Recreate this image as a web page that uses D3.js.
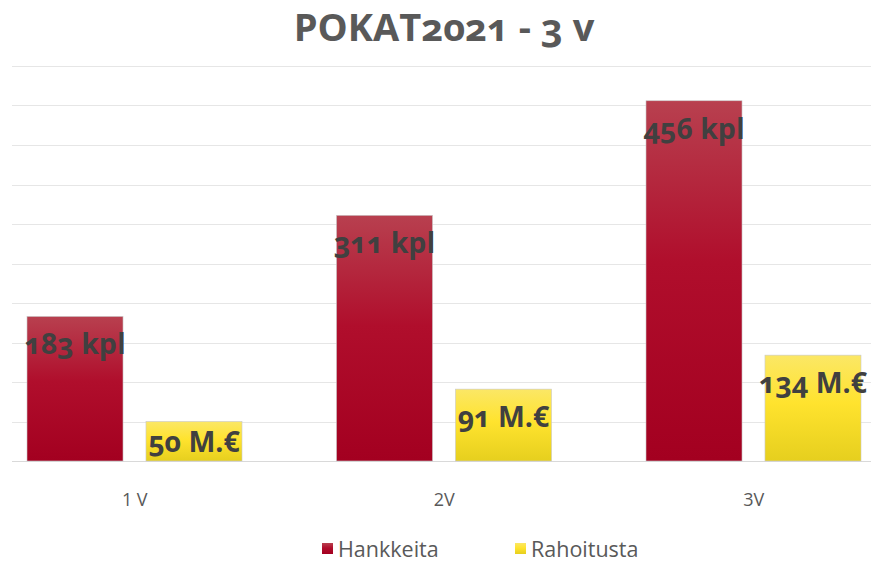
<!DOCTYPE html>
<html>
<head>
<meta charset="utf-8">
<script src="https://cdn.jsdelivr.net/npm/d3@7"></script>
<style>
  body { margin: 0; background: #fff; }
  svg { font-family: "Open Sans", sans-serif; font-variant-numeric: oldstyle-nums; font-feature-settings: "onum" 1; }
  .axis-label { font-variant-numeric: lining-nums; font-feature-settings: "lnum" 1; }
</style>
</head>
<body>
<svg id="chart" width="871" height="562"></svg>
<script>
// Data
const categories = ["1 V", "2V", "3V"]
const seriesNames = ["Hankkeita", "Rahoitusta"]
const hankkeita = [183, 311, 456]
const rahoitusta = [50, 91, 134]
const hankkeitaLabels = ["183 kpl", "311 kpl", "456 kpl"]
const rahoitustaLabels = ["50 M.€", "91 M.€", "134 M.€"]
const yTicks = [0, 50, 100, 150, 200, 250, 300, 350, 400, 450, 500]

var svg = d3.select("#chart"),
  width = +svg.attr("width"),
  height = +svg.attr("height");

const rows = categories.map((c, i) => ({
  cat: c,
  values: [
    { key: seriesNames[0], value: hankkeita[i], label: hankkeitaLabels[i] },
    { key: seriesNames[1], value: rahoitusta[i], label: rahoitustaLabels[i] }
  ]
}))

// Scales
const x0 = d3.scaleBand()
  .domain(categories)
  .range([-20, 908.5])
  .padding(0);

const x1 = d3.scaleBand()
  .domain(seriesNames)
  .range([47, x0.bandwidth() - 47.5])
  .paddingInner(0.193);

const y = d3.scaleLinear()
  .domain([0, 500])
  .range([461, 66]);

// Gradients
const defs = svg.append("defs")
const gradRed = defs.append("linearGradient").attr("id", "gradRed")
  .attr("x1", 0).attr("y1", 0).attr("x2", 0).attr("y2", 1)
gradRed.append("stop").attr("offset", "0%").attr("stop-color", "#b8404f")
gradRed.append("stop").attr("offset", "45%").attr("stop-color", "#b00e2c")
gradRed.append("stop").attr("offset", "100%").attr("stop-color", "#a30020")
const gradYellow = defs.append("linearGradient").attr("id", "gradYellow")
  .attr("x1", 0).attr("y1", 0).attr("x2", 0).attr("y2", 1)
gradYellow.append("stop").attr("offset", "0%").attr("stop-color", "#fbe766")
gradYellow.append("stop").attr("offset", "45%").attr("stop-color", "#ffe32e")
gradYellow.append("stop").attr("offset", "100%").attr("stop-color", "#e6cf1e")

const color = d3.scaleOrdinal()
  .domain(seriesNames)
  .range(["url(#gradRed)", "url(#gradYellow)"]);

// Title
svg.append("text")
  .attr("x", 444)
  .attr("y", 41)
  .attr("text-anchor", "middle")
  .attr("font-size", 38)
  .attr("font-weight", "bold")
  .attr("fill", "#595959")
  .text("POKAT2021 - 3 v");

// Gridlines
svg.append("g")
  .selectAll("line")
  .data(yTicks)
  .join("line")
  .attr("x1", 12)
  .attr("x2", width)
  .attr("y1", d => Math.round(y(d)) + 0.5)
  .attr("y2", d => Math.round(y(d)) + 0.5)
  .attr("stroke", d => d === 0 ? "#d9d9d9" : "#e6e6e6")
  .attr("stroke-width", 1.2);

// Bars
const groups = svg.append("g")
  .selectAll("g")
  .data(rows)
  .join("g")
  .attr("transform", d => `translate(${x0(d.cat)},0)`);

groups.selectAll("rect")
  .data(d => d.values)
  .join("rect")
  .attr("x", d => x1(d.key))
  .attr("y", d => y(d.value))
  .attr("width", x1.bandwidth())
  .attr("height", d => y(0) - y(d.value))
  .attr("fill", d => color(d.key))
  .attr("stroke", "#c8c8c8")
  .attr("stroke-width", 0.6);

// Value labels (inside end, centred when the bar is short)
groups.selectAll("text.val")
  .data(d => d.values)
  .join("text")
  .attr("class", "val")
  .attr("x", d => x1(d.key) + x1.bandwidth() / 2)
  .attr("y", d => Math.min(y(d.value) + 38, (y(d.value) + y(0)) / 2 + 11))
  .attr("text-anchor", "middle")
  .attr("font-size", 28.5)
  .attr("font-weight", "bold")
  .attr("fill", "#404040")
  .text(d => d.label);

// X axis labels
svg.append("g")
  .selectAll("text")
  .data(categories)
  .join("text")
  .attr("class", "axis-label")
  .attr("x", d => x0(d) + x0.bandwidth() / 2)
  .attr("y", 506)
  .attr("text-anchor", "middle")
  .attr("font-size", 18)
  .attr("fill", "#595959")
  .text(d => d);

// Legend
const legendX = [322, 515]
const legend = svg.append("g")
  .selectAll("g")
  .data(seriesNames)
  .join("g")
  .attr("transform", (d, i) => `translate(${legendX[i]},0)`);

legend.append("rect")
  .attr("x", 0)
  .attr("y", 543)
  .attr("width", 11)
  .attr("height", 11)
  .attr("fill", d => color(d));

legend.append("text")
  .attr("x", 16)
  .attr("y", 557)
  .attr("font-size", 21.5)
  .attr("fill", "#595959")
  .text(d => d);
</script>
</body>
</html>
